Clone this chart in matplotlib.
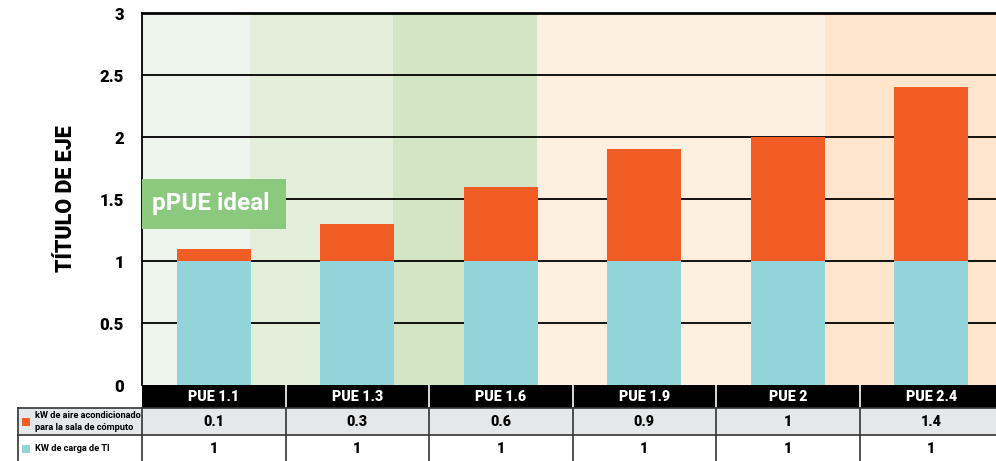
import matplotlib.pyplot as plt
from matplotlib.patches import Rectangle
import numpy as np

plt.rcParams['font.family'] = ['Roboto', 'DejaVu Sans']

categories = ['PUE 1.1', 'PUE 1.3', 'PUE 1.6', 'PUE 1.9', 'PUE 2', 'PUE 2.4']
it_load = [1, 1, 1, 1, 1, 1]
cooling = [0.1, 0.3, 0.6, 0.9, 1, 1.4]
cooling_labels = ['0.1', '0.3', '0.6', '0.9', '1', '1.4']
it_labels = ['1', '1', '1', '1', '1', '1']
series_names = ['kW de aire acondicionado\npara la sala de cómputo', 'KW de carga de TI']
y_ticks = [0, 0.5, 1, 1.5, 2, 2.5, 3]
y_ticklabels = ['0', '0.5', '1', '1.5', '2', '2.5', '3']

teal = '#93D4D9'
orange = '#F15D25'

# background bands (edges in category units, colours)
band_edges = [-0.5, 0.255, 1.25, 2.25, 4.26, 5.6]
band_colors = ['#EEF5EC', '#E3EFDA', '#D3E5C5', '#FDF0E0', '#FEE5CC']

W, H = 996, 461
fig = plt.figure(figsize=(W / 100, H / 100), dpi=100)
ax = fig.add_axes([142 / W, (H - 385) / H, 1 - 142 / W, (385 - 13) / H])
tax = fig.add_axes([142 / W, 0, 1 - 142 / W, (H - 385) / H], sharex=ax)

x = np.arange(len(categories))
for i in range(len(band_colors)):
    ax.axvspan(band_edges[i], band_edges[i + 1], color=band_colors[i], lw=0, zorder=0)

for yv in y_ticks[1:]:
    ax.axhline(yv, color='black', lw=1.3, zorder=1)

bw = 0.515
ax.bar(x, it_load, width=bw, color=teal, zorder=2)
ax.bar(x, cooling, width=bw, bottom=it_load, color=orange, zorder=2)

ax.set_xlim(-0.5, 5.45)
ax.set_ylim(0, 3)
ax.set_yticks(y_ticks)
ax.set_yticklabels(y_ticklabels, fontsize=12, fontweight='black')
ax.tick_params(axis='y', length=0, pad=13)
ax.tick_params(axis='x', length=0, labelbottom=False)
for s in ['right', 'bottom']:
    ax.spines[s].set_visible(False)
ax.spines['left'].set_linewidth(1.3)
ax.spines['top'].set_linewidth(2)
ax.set_ylabel('TÍTULO DE EJE', fontsize=15.5, fontweight='black', labelpad=16)

# pPUE ideal label
ax.add_patch(Rectangle((-0.5, 1.26), 1.0, 0.405, color='#8BC97F', zorder=3, lw=0))
ax.text(-0.43, 1.46, 'pPUE ideal', color='white', fontsize=17.5, fontweight='bold',
        va='center', ha='left', zorder=4)

# data table under the chart
rows = [0, 23, 50, 77]
left = -0.5 - (142 - 18) / 143.5
tax.set_ylim(76, 0)
tax.axis('off')
tax.add_patch(Rectangle((-0.5, rows[0]), 6.1, rows[1] - rows[0], color='black', lw=0))
tax.add_patch(Rectangle((left, rows[1]), 6.1 - left, rows[2] - rows[1], color='#E6E7E9',
                        lw=0, clip_on=False))
for b in np.arange(0.5, 5.5, 1):
    tax.plot([b, b], [rows[0], rows[1]], color='white', lw=1.2)
for b in [left] + list(np.arange(-0.5, 5.5, 1)):
    tax.plot([b, b], [rows[1], rows[3]], color='#333333', lw=1.2, clip_on=False)
tax.plot([left, 5.6], [rows[1], rows[1]], color='#333333', lw=1.2, clip_on=False)
tax.plot([left, 5.6], [rows[2], rows[2]], color='#333333', lw=1.2, clip_on=False)

for i, c in enumerate(categories):
    tax.text(i, (rows[0] + rows[1]) / 2 + 0.5, c, color='white', fontsize=10.3,
             fontweight='black', ha='center', va='center')
    tax.text(i, (rows[1] + rows[2]) / 2, cooling_labels[i], color='black', fontsize=10.3,
             fontweight='black', ha='center', va='center')
    tax.text(i, (rows[2] + rows[3]) / 2, it_labels[i], color='black', fontsize=10.3,
             fontweight='black', ha='center', va='center')

for r, name, col in [(1, series_names[0], orange), (2, series_names[1], teal)]:
    yc = (rows[r] + rows[r + 1]) / 2
    tax.add_patch(Rectangle((left + 0.03, yc - 4), 0.055, 8, color=col, lw=0, clip_on=False))
    tax.text(left + 0.12, yc, name, fontsize=6.7, fontweight='bold', ha='left', va='center',
             linespacing=1.5, clip_on=False)

fig.savefig('out.png', dpi=100)
